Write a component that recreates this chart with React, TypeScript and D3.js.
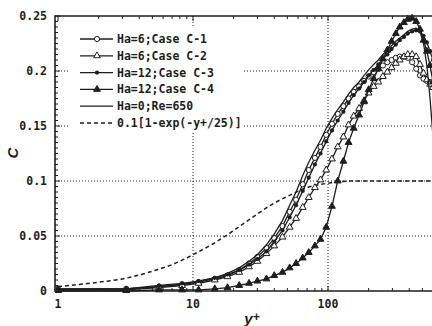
import React, { useEffect, useRef } from 'react';
import * as d3 from 'd3';

// y+ positions of the simulation points (shared by all cases)
const yPlus = [1, 3.2, 5.6, 8.3, 11, 14.5, 18, 22, 26, 30, 35, 40, 46, 52, 58, 65, 72, 80, 88, 97, 107, 118, 130, 142, 155, 170, 185, 200, 218, 236, 255, 275, 296, 318, 340, 365, 390, 420, 450, 480, 510, 540, 570, 600];

const caseC1 = [0.002, 0.002, 0.004, 0.006, 0.008, 0.011, 0.014, 0.019, 0.025, 0.031, 0.039, 0.048, 0.059, 0.072, 0.083, 0.097, 0.11, 0.121, 0.131, 0.142, 0.152, 0.161, 0.168, 0.175, 0.181, 0.186, 0.191, 0.195, 0.199, 0.202, 0.205, 0.208, 0.21, 0.212, 0.213, 0.213, 0.212, 0.208, 0.202, 0.196, 0.193, 0.191, 0.19, 0.188];
const caseC2 = [0.001, 0.001, 0.003, 0.005, 0.007, 0.01, 0.013, 0.017, 0.022, 0.027, 0.034, 0.041, 0.049, 0.058, 0.066, 0.076, 0.085, 0.094, 0.101, 0.11, 0.12, 0.131, 0.14, 0.151, 0.159, 0.166, 0.173, 0.18, 0.186, 0.19, 0.195, 0.199, 0.203, 0.207, 0.21, 0.213, 0.215, 0.215, 0.213, 0.206, 0.198, 0.192, 0.188, 0.185];
const caseC3 = [0.002, 0.002, 0.005, 0.007, 0.009, 0.012, 0.015, 0.019, 0.024, 0.029, 0.036, 0.045, 0.055, 0.067, 0.078, 0.091, 0.103, 0.115, 0.125, 0.136, 0.146, 0.155, 0.163, 0.171, 0.178, 0.184, 0.19, 0.196, 0.201, 0.206, 0.211, 0.215, 0.22, 0.224, 0.228, 0.231, 0.234, 0.236, 0.237, 0.236, 0.232, 0.226, 0.218, 0.21];
const caseC4 = [0, 0, 0.001, 0.001, 0.001, 0.002, 0.003, 0.005, 0.007, 0.009, 0.011, 0.014, 0.017, 0.021, 0.025, 0.03, 0.035, 0.041, 0.047, 0.058, 0.077, 0.1, 0.118, 0.135, 0.148, 0.16, 0.172, 0.183, 0.193, 0.202, 0.211, 0.219, 0.227, 0.234, 0.24, 0.244, 0.247, 0.248, 0.245, 0.238, 0.228, 0.218, 0.205, 0.19];
const caseHa0 = [0.001, 0.002, 0.004, 0.006, 0.009, 0.012, 0.016, 0.021, 0.027, 0.033, 0.042, 0.052, 0.064, 0.078, 0.09, 0.105, 0.117, 0.128, 0.137, 0.148, 0.157, 0.165, 0.172, 0.179, 0.185, 0.19, 0.196, 0.201, 0.206, 0.21, 0.215, 0.219, 0.223, 0.227, 0.23, 0.233, 0.236, 0.238, 0.239, 0.236, 0.225, 0.205, 0.175, 0.14];

// reference curve
const refYPlus = [1, 2, 3, 5, 7, 10, 15, 20, 30, 40, 50, 70, 100, 150, 200, 300, 500, 700];
const refC = [0.004, 0.008, 0.011, 0.018, 0.024, 0.033, 0.045, 0.055, 0.07, 0.08, 0.086, 0.094, 0.098, 0.1, 0.1, 0.1, 0.1, 0.1];

const yTicks = [0, 0.05, 0.1, 0.15, 0.2, 0.25];
const yTickLabels = ['0', '0.05', '0.1', '0.15', '0.2', '0.25'];
const xTicks = [1, 10, 100];
const xTickLabels = ['1', '10', '100'];

const legendLabels = ['Ha=6;Case C-1', 'Ha=6;Case C-2', 'Ha=12;Case C-3', 'Ha=12;Case C-4', 'Ha=0;Re=650', '0.1[1-exp(-y+/25)]'];

type Marker = 'openCircle' | 'openTriangle' | 'dot' | 'triangle' | 'none';

const series: { values: number[]; marker: Marker }[] = [
  { values: caseC1, marker: 'openCircle' },
  { values: caseC2, marker: 'openTriangle' },
  { values: caseC3, marker: 'dot' },
  { values: caseC4, marker: 'triangle' },
  { values: caseHa0, marker: 'none' },
];

const ink = '#1e1e1e';
const mono = '"DejaVu Sans Mono", monospace';

const App = () => {
  const ref = useRef<SVGSVGElement>(null);

  useEffect(() => {
    const W = 432, H = 326;
    const left = 55, top = 16, bottom = 291, right = 470;

    const x = d3.scaleLog().domain([1, 1000]).range([58, 463]);
    const y = d3.scaleLinear().domain([0, 0.25]).range([bottom, top]);

    const svg = d3.select(ref.current);
    svg.selectAll('*').remove();
    svg.attr('width', W).attr('height', H);
    svg.append('rect').attr('width', W).attr('height', H).attr('fill', 'white');

    svg.append('defs').append('clipPath').attr('id', 'plot')
      .append('rect').attr('x', left).attr('y', top - 4).attr('width', right - left).attr('height', bottom - top + 6);

    // dotted grid
    const grid = svg.append('g').attr('stroke', ink).attr('stroke-width', 1).attr('stroke-dasharray', '1,2');
    yTicks.filter(d => d > 0 && d < 0.25).forEach(d => {
      grid.append('line').attr('x1', left).attr('x2', right).attr('y1', y(d)).attr('y2', y(d));
    });
    xTicks.filter(d => d > 1).forEach(d => {
      grid.append('line').attr('x1', x(d)).attr('x2', x(d)).attr('y1', top).attr('y2', bottom);
    });

    // frame
    const axes = svg.append('g').attr('stroke', ink).attr('fill', 'none');
    axes.append('path').attr('d', `M${right},${top}H${left}V${bottom}H${right}`).attr('stroke-width', 1.6);

    // minor y ticks
    d3.range(0, 0.2501, 0.005).forEach(v => {
      const major = Math.abs(v / 0.05 - Math.round(v / 0.05)) < 1e-6;
      axes.append('line').attr('x1', left).attr('x2', left + (major ? 5 : 3))
        .attr('y1', y(v)).attr('y2', y(v)).attr('stroke-width', 1);
    });

    // log ticks top and bottom
    [1, 10, 100].forEach(dec => {
      d3.range(1, 10).forEach(m => {
        const v = dec * m;
        const len = m === 1 ? 5 : 3;
        axes.append('line').attr('x1', x(v)).attr('x2', x(v)).attr('y1', bottom).attr('y2', bottom - len).attr('stroke-width', 1);
        axes.append('line').attr('x1', x(v)).attr('x2', x(v)).attr('y1', top).attr('y2', top + len).attr('stroke-width', 1);
      });
    });

    // tick labels
    const labels = svg.append('g').attr('font-family', mono).attr('font-weight', 'bold').attr('font-size', 11.5).attr('fill', ink);
    yTicks.forEach((d, i) => {
      labels.append('text').attr('x', 47).attr('y', y(d)).attr('dy', '0.35em').attr('text-anchor', 'end').text(yTickLabels[i]);
    });
    xTicks.forEach((d, i) => {
      labels.append('text').attr('x', x(d)).attr('y', 308).attr('text-anchor', 'middle').text(xTickLabels[i]);
    });

    // axis titles
    svg.append('text').attr('transform', 'translate(18,153) rotate(-90)').attr('text-anchor', 'middle')
      .attr('font-family', '"Liberation Sans", Arial, sans-serif').attr('font-weight', 'bold').attr('font-style', 'italic')
      .attr('font-size', 15).attr('fill', ink).text('C');
    const yt = svg.append('text').attr('x', 252).attr('y', 324).attr('text-anchor', 'middle')
      .attr('font-family', '"Liberation Sans", Arial, sans-serif').attr('font-weight', 'bold').attr('font-style', 'italic')
      .attr('font-size', 15).attr('fill', ink);
    yt.append('tspan').text('y');
    yt.append('tspan').attr('dy', -3).attr('font-size', 12).text('+');

    const plot = svg.append('g').attr('clip-path', 'url(#plot)');

    const line = d3.line<[number, number]>().x(d => x(d[0])).y(d => y(d[1]));

    // reference dashed curve
    plot.append('path')
      .attr('d', d3.line<[number, number]>().x(d => x(d[0])).y(d => y(d[1])).curve(d3.curveMonotoneX)(refYPlus.map((v, i) => [v, refC[i]])))
      .attr('fill', 'none').attr('stroke', ink).attr('stroke-width', 1.5).attr('stroke-dasharray', '4,3');

    const drawMarker = (g: d3.Selection<SVGGElement, unknown, null, undefined>, m: Marker, cx: number, cy: number) => {
      if (m === 'openCircle') {
        g.append('circle').attr('cx', cx).attr('cy', cy).attr('r', 2.6).attr('fill', 'white').attr('stroke', ink).attr('stroke-width', 1);
      } else if (m === 'dot') {
        g.append('circle').attr('cx', cx).attr('cy', cy).attr('r', 2.1).attr('fill', ink);
      } else if (m === 'openTriangle' || m === 'triangle') {
        g.append('path').attr('transform', `translate(${cx},${cy})`)
          .attr('d', d3.symbol().type(d3.symbolTriangle).size(20)())
          .attr('fill', m === 'triangle' ? ink : 'white').attr('stroke', ink).attr('stroke-width', 1);
      }
    };

    series.forEach(s => {
      const pts: [number, number][] = yPlus.map((v, i) => [v, s.values[i]]);
      const g = plot.append('g');
      g.append('path').attr('d', line(pts)).attr('fill', 'none').attr('stroke', ink).attr('stroke-width', 1.3);
      if (s.marker !== 'none') pts.forEach(p => drawMarker(g, s.marker, x(p[0]), y(p[1])));
    });

    // legend
    const lg = svg.append('g');
    lg.append('rect').attr('x', 70).attr('y', 28).attr('width', 172).attr('height', 104).attr('fill', 'white');
    legendLabels.forEach((lab, i) => {
      const ly = 39 + i * 16.8;
      const row = lg.append('g');
      if (i < 5) {
        row.append('line').attr('x1', 80).attr('x2', 113).attr('y1', ly).attr('y2', ly).attr('stroke', ink).attr('stroke-width', 1.3);
        drawMarker(row as any, series[i].marker, 97, ly);
      } else {
        row.append('line').attr('x1', 80).attr('x2', 113).attr('y1', ly).attr('y2', ly).attr('stroke', ink).attr('stroke-width', 1.5).attr('stroke-dasharray', '4,3');
      }
      row.append('text').attr('x', 117).attr('y', ly).attr('dy', '0.35em')
        .attr('font-family', mono).attr('font-weight', 'bold').attr('font-size', 11.5).attr('fill', ink).text(lab);
    });
  }, []);

  return (
    <svg ref={ref} style={{ position: 'absolute', left: 0, top: 0 }} width={432} height={326} />
  );
};

export default App;
